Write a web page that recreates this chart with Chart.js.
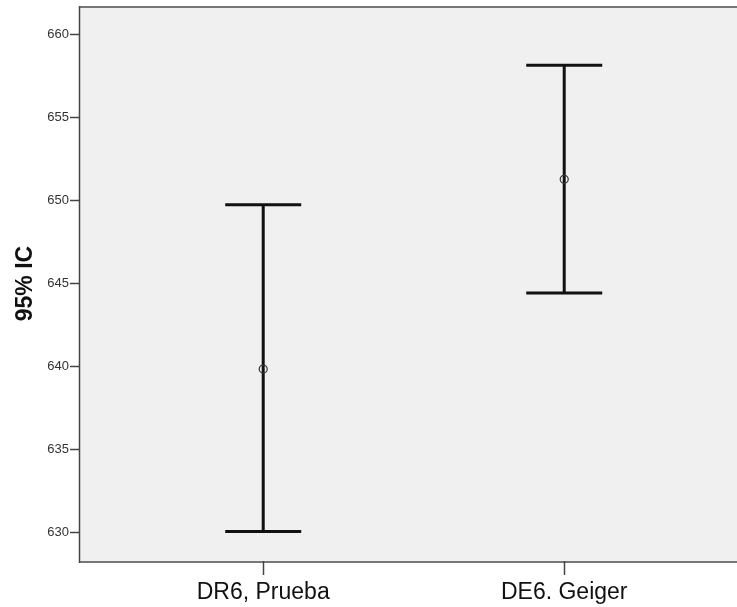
<!DOCTYPE html>
<html>
<head>
<meta charset="utf-8">
<script src="https://cdn.jsdelivr.net/npm/chart.js@4.4.1/dist/chart.umd.min.js"></script>
<style>
  html, body { margin: 0; padding: 0; background: #ffffff; }
  #wrap { width: 737px; height: 607px; }
</style>
</head>
<body>
<div id="wrap"><canvas id="c" width="737" height="607"></canvas></div>
<script>
// Groups and their 95% confidence intervals
const categories = ['DR6, Prueba', 'DE6. Geiger'];
const means = [639.86, 651.29];
const lowerCI = [630.08, 644.45];
const upperCI = [649.76, 658.16];
const yTicks = [630, 635, 640, 645, 650, 655, 660];

const points = categories.map((c, i) => ({ x: i, y: means[i] }));

// Plot background and frame
const frame = {
  id: 'frame',
  beforeDraw(chart) {
    const { ctx, chartArea: a } = chart;
    ctx.save();
    ctx.fillStyle = '#f0f0f0';
    ctx.fillRect(a.left, a.top, a.right - a.left, a.bottom - a.top);
    ctx.strokeStyle = '#777777';
    ctx.lineWidth = 2;
    ctx.beginPath();
    ctx.moveTo(a.left, a.top + 1);
    ctx.lineTo(a.right + 2, a.top + 1);
    ctx.moveTo(a.left, a.bottom + 1);
    ctx.lineTo(a.right + 2, a.bottom + 1);
    ctx.stroke();
    ctx.strokeStyle = '#444444';
    ctx.lineWidth = 1.5;
    ctx.beginPath();
    ctx.moveTo(a.left + 0.5, a.top);
    ctx.lineTo(a.left + 0.5, a.bottom + 2);
    ctx.stroke();
    ctx.restore();
  }
};

// Interval whiskers with caps
const whiskers = {
  id: 'whiskers',
  afterDatasetsDraw(chart) {
    const { ctx } = chart;
    const xs = chart.scales.x, ys = chart.scales.y;
    const cap = 38;
    ctx.save();
    ctx.strokeStyle = '#111111';
    ctx.lineWidth = 3;
    ctx.lineCap = 'butt';
    categories.forEach((c, i) => {
      const px = xs.getPixelForValue(i);
      const pLo = ys.getPixelForValue(lowerCI[i]);
      const pHi = ys.getPixelForValue(upperCI[i]);
      ctx.beginPath();
      ctx.moveTo(px, pHi);
      ctx.lineTo(px, pLo);
      ctx.moveTo(px - cap, pHi);
      ctx.lineTo(px + cap, pHi);
      ctx.moveTo(px - cap, pLo);
      ctx.lineTo(px + cap, pLo);
      ctx.stroke();
    });
    ctx.restore();
  }
};

// Mean markers drawn on top of the whiskers
const markers = {
  id: 'markers',
  afterDraw(chart) {
    const { ctx } = chart;
    const xs = chart.scales.x, ys = chart.scales.y;
    ctx.save();
    ctx.strokeStyle = '#333333';
    ctx.lineWidth = 1.2;
    points.forEach(p => {
      ctx.beginPath();
      ctx.arc(xs.getPixelForValue(p.x), ys.getPixelForValue(p.y), 4, 0, Math.PI * 2);
      ctx.stroke();
    });
    ctx.restore();
  }
};

new Chart(document.getElementById('c'), {
  type: 'scatter',
  data: {
    datasets: [{
      data: points,
      pointRadius: 0,
      pointHoverRadius: 0,
      showLine: false
    }]
  },
  options: {
    responsive: false,
    animation: false,
    devicePixelRatio: 1,
    layout: { padding: { top: 6, right: 0, bottom: 0, left: 0 } },
    plugins: { legend: { display: false }, tooltip: { enabled: false } },
    scales: {
      x: {
        type: 'linear',
        min: -0.612,
        max: 1.574,
        afterBuildTicks(s) { s.ticks = categories.map((c, i) => ({ value: i })); },
        afterFit(s) { s.height = 46; s.paddingLeft = 0; s.paddingRight = 0; },
        grid: { drawOnChartArea: false, tickLength: 14, tickColor: '#444444', tickWidth: 1.5 },
        border: { display: false },
        ticks: {
          callback: v => categories[v],
          color: '#111111',
          padding: 4,
          maxRotation: 0,
          font: { family: 'Liberation Sans, Arial, sans-serif', size: 23 }
        }
      },
      y: {
        min: 628.3,
        max: 661.73,
        afterBuildTicks(s) { s.ticks = yTicks.map(v => ({ value: v })); },
        afterFit(s) { s.width = 79; s.paddingTop = 0; s.paddingBottom = 0; },
        grid: { drawOnChartArea: false, tickLength: 9, tickColor: '#444444', tickWidth: 1.5 },
        border: { display: false },
        ticks: {
          color: '#333333',
          padding: 1,
          font: { family: 'Liberation Sans, Arial, sans-serif', size: 13 }
        },
        title: {
          display: true,
          text: '95% IC',
          color: '#111111',
          padding: { top: 12, bottom: 0 },
          font: { family: 'Liberation Sans, Arial, sans-serif', size: 23, weight: 'bold' }
        }
      }
    }
  },
  plugins: [frame, whiskers, markers]
});
</script>
</body>
</html>
